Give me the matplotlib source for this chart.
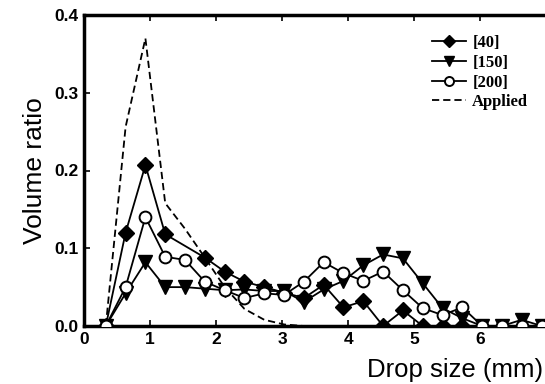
import matplotlib.pyplot as plt

plt.rcParams['font.family'] = ['Liberation Sans', 'DejaVu Sans']

# drop size classes (mm)
size = [0.33, 0.63, 0.93, 1.23, 1.53, 1.83, 2.13, 2.43, 2.73, 3.03, 3.33, 3.63,
        3.93, 4.23, 4.53, 4.83, 5.13, 5.43, 5.73, 6.03, 6.33, 6.63, 6.93]
size_40 = [0.33, 0.63, 0.93, 1.23, 1.83, 2.13, 2.43, 2.73, 3.03, 3.33, 3.63,
           3.93, 4.23, 4.53, 4.83, 5.13, 5.43, 5.73]

ratio_40 = [0, 0.12, 0.207, 0.118, 0.088, 0.07, 0.057, 0.05, 0.043, 0.036, 0.053,
            0.024, 0.032, 0, 0.02, 0, 0, 0]
ratio_150 = [0, 0.042, 0.082, 0.05, 0.05, 0.048, 0.046, 0.047, 0.045, 0.045, 0.031,
             0.047, 0.058, 0.078, 0.092, 0.087, 0.055, 0.023, 0.01, 0, 0, 0.008, 0]
ratio_200 = [0, 0.05, 0.14, 0.089, 0.085, 0.057, 0.046, 0.036, 0.042, 0.04, 0.057,
             0.082, 0.068, 0.058, 0.07, 0.046, 0.023, 0.014, 0.024, 0, 0, 0, 0]
applied = [0, 0.256, 0.37, 0.158, 0.125, 0.088, 0.05, 0.022, 0.008, 0.002, 0, 0]

W, H = 545, 384
fig = plt.figure(figsize=(W / 100, H / 100), dpi=100)
# axes run past the right edge of the figure, so no right spine shows
ax = fig.add_axes([84 / W, 58 / H, 482 / W, 311 / H])

lw = 1.3
ax.plot(size_40, ratio_40, color='black', lw=lw, marker='D', ms=8.5,
        mfc='black', mec='black', label='[40]', zorder=4)
ax.plot(size, ratio_150, color='black', lw=lw, marker='v', ms=10,
        mfc='black', mec='black', label='[150]', zorder=3)
ax.plot(size, ratio_200, color='black', lw=lw, marker='o', ms=8.5,
        mfc='white', mec='black', mew=1.4, label='[200]', zorder=5)
ax.plot(size[:len(applied)], applied, color='black', lw=1.3, ls=(0, (4, 2.2)),
        label='Applied', zorder=2)

ax.set_xlim(0, 7.3)
ax.set_ylim(0, 0.4)
ax.set_xticks(range(0, 8))
ax.set_xticklabels(['0', '1', '2', '3', '4', '5', '6', ''])
ax.set_yticks([0.0, 0.1, 0.2, 0.3, 0.4])
ax.set_yticklabels(['0.0', '0.1', '0.2', '0.3', '0.4'])
ax.tick_params(direction='in', top=True, length=4, width=1.2, labelsize=12.5, pad=4)
for t in ax.get_xticklabels() + ax.get_yticklabels():
    t.set_fontweight('bold')
for s in ax.spines.values():
    s.set_linewidth(2.5)

ax.set_ylabel('Volume ratio', fontsize=19, labelpad=5)
fig.text(543 / W, 14 / H, 'Drop size (mm)', fontsize=18.5, ha='right', va='center')

leg = ax.legend(loc='upper left', bbox_to_anchor=(424 / W, 1 - 27 / H),
                bbox_transform=fig.transFigure, frameon=False, borderpad=0,
                handlelength=2.0, handletextpad=0.4, labelspacing=0.22,
                prop={'family': 'Liberation Serif', 'weight': 'bold', 'size': 12})
for h in leg.legend_handles:
    h.set_markersize(6.5)

fig.savefig('out.png', dpi=100)
